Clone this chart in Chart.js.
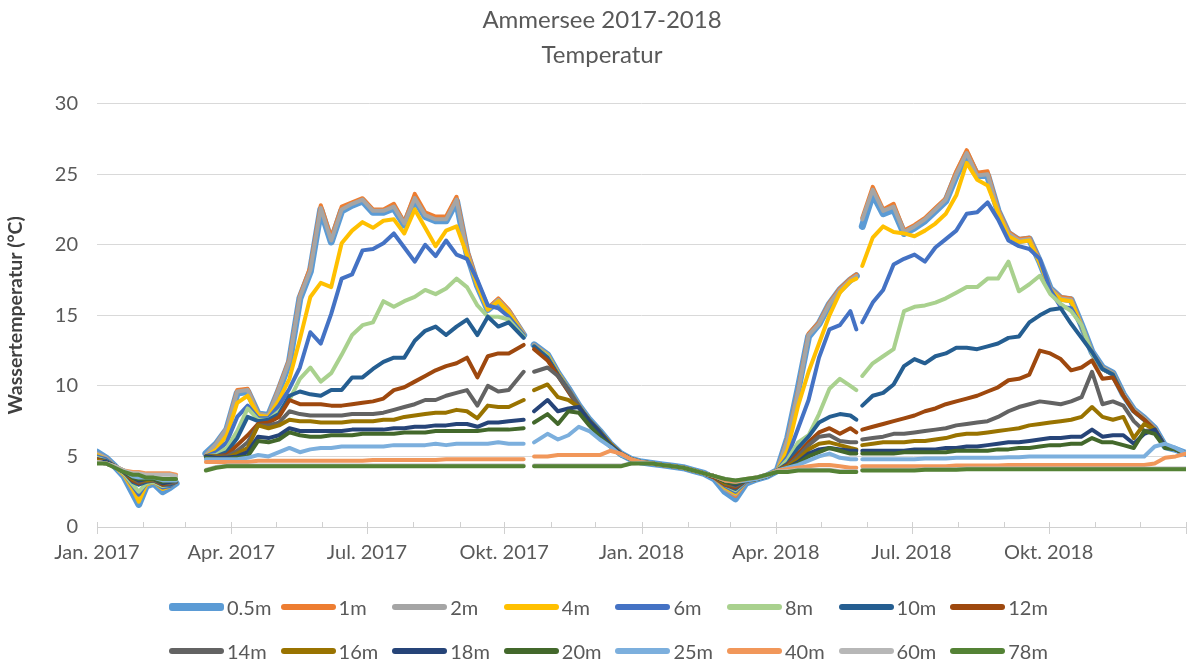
<!DOCTYPE html>
<html>
<head>
<meta charset="utf-8">
<script src="https://cdn.jsdelivr.net/npm/chart.js@4/dist/chart.umd.min.js"></script>
<style>
  html, body { margin: 0; padding: 0; background: #fff; }
  #wrap { position: relative; width: 1200px; height: 662px; overflow: hidden; }
  #legend { position: absolute; left: 0; top: 0; width: 1200px; height: 662px; pointer-events: none;
            font-family: Lato, 'Noto Sans', sans-serif; }
  .item { position: absolute; display: flex; align-items: center; height: 24px; font-size: 20px; color: #595959; white-space: nowrap; }
  .item .mark { display: inline-block; width: 55px; border-radius: 3px; margin-right: 3px; }
</style>
</head>
<body>
<div id="wrap">
  <canvas id="chart" width="1200" height="662"></canvas>
  <div id="legend"></div>
</div>
<script>
// Ammersee 2017-2018, Wassertemperatur nach Tiefe
// x = Tage seit 1.1.2017, null-Einträge = Messlücken

const FONT = "Lato, 'Noto Sans', sans-serif";

const days = [
  0, 6, 12, 18, 24, 28, 33, 38, 44, 49, 53,
  63,
  73, 80, 87, 94, 101, 108, 115, 122, 129, 136, 143, 150, 157, 164, 171, 178,
  185, 192, 199, 206, 213, 220, 227, 234, 241, 248, 255, 262, 269, 276, 286,
  289,
  293, 302, 309, 316, 323, 330, 337, 344, 351, 358, 365, 372, 379, 386, 393, 400,
  407, 414, 421, 428, 435, 442, 449, 456, 463, 470, 477, 484, 491, 498, 505, 509,
  511,
  513, 520, 527, 534, 541, 548, 555, 562, 569, 576, 583, 590, 597, 604, 611, 618,
  625, 632, 639, 646, 653, 660, 667, 674, 681, 688, 695, 702, 709, 716, 723, 730
];

const depths = ['0.5m', '1m', '2m', '4m', '6m', '8m', '10m', '12m',
                '14m', '16m', '18m', '20m', '25m', '40m', '60m', '78m'];

const colors = ['#5B9BD5', '#ED7D31', '#A5A5A5', '#FFC000', '#4472C4', '#A9D18E', '#255E91', '#9E480E',
                '#636363', '#997300', '#264478', '#43682B', '#7CAFDD', '#F1975A', '#B7B7B7', '#548235'];

const t0_5 = [
  5.3, 4.9, 4.3, 3.6, 2.4, 1.6, 2.9, 3.1, 2.5, 2.8, 3.1,
  null,
  5.2, 5.9, 6.9, 9.5, 9.6, 8.0, 7.9, 9.7, 11.7, 16.2, 18.1, 22.5, 20.2, 22.4, 22.8, 23.1,
  22.3, 22.3, 22.6, 21.4, 23.2, 22.0, 21.7, 21.7, 23.1, 19.4, 17.1, 15.4, 16.0, 15.2, 13.6,
  null,
  12.9, 12.2, 10.9, 9.8, 8.6, 7.6, 6.8, 5.9, 5.2, 4.8, 4.6, 4.5, 4.4, 4.3, 4.2, 4.0,
  3.8, 3.4, 2.5, 2.0, 3.1, 3.4, 3.6, 4.0, 6.3, 9.8, 13.5, 14.4, 15.8, 16.8, 17.5, 17.8,
  null,
  21.3, 23.6, 22.2, 22.5, 20.8, 21.2, 21.7, 22.4, 23.1, 24.9, 26.4, 24.9, 24.9, 22.4, 20.8, 20.3,
  20.4, 18.8, 16.9, 16.2, 16.1, 14.3, 12.4, 11.3, 10.9, 9.4, 8.3, 7.7, 7.0, 5.7, 5.5, 5.2
];

const t1 = [
  5.2, 4.9, 4.3, 3.7, 2.6, 1.9, 3.0, 3.2, 2.7, 2.9, 3.2,
  null,
  5.1, 5.9, 7.0, 9.7, 9.8, 8.0, 7.9, 9.9, 11.9, 16.4, 18.4, 22.8, 20.5, 22.7, 23.0, 23.3,
  22.5, 22.5, 22.9, 21.6, 23.6, 22.3, 22.0, 22.0, 23.4, 19.7, 17.3, 15.5, 16.2, 15.4, 13.7,
  null,
  12.9, 12.2, 10.9, 9.8, 8.6, 7.6, 6.8, 5.9, 5.2, 4.8, 4.6, 4.5, 4.4, 4.3, 4.2, 4.0,
  3.8, 3.5, 2.7, 2.2, 3.2, 3.4, 3.6, 4.0, 6.3, 9.7, 13.7, 14.5, 15.9, 16.9, 17.6, 17.9,
  null,
  21.9, 24.1, 22.5, 22.9, 21.0, 21.4, 21.9, 22.6, 23.3, 25.2, 26.7, 25.1, 25.2, 22.5, 20.9, 20.4,
  20.5, 18.9, 16.9, 16.3, 16.2, 14.3, 12.4, 11.3, 10.9, 9.4, 8.3, 7.7, 7.0, 5.7, 5.5, 5.2
];

const t2 = [
  5.2, 4.9, 4.3, 3.7, 2.6, 1.9, 3.0, 3.2, 2.7, 2.9, 3.2,
  null,
  5.1, 5.9, 7.0, 9.6, 9.7, 8.0, 7.9, 9.8, 11.8, 16.3, 18.2, 22.6, 20.3, 22.5, 22.9, 23.2,
  22.4, 22.4, 22.7, 21.5, 23.3, 22.1, 21.8, 21.8, 23.2, 19.5, 17.2, 15.4, 16.1, 15.3, 13.7,
  null,
  12.9, 12.2, 10.9, 9.8, 8.6, 7.6, 6.8, 5.9, 5.2, 4.8, 4.6, 4.5, 4.4, 4.3, 4.2, 4.0,
  3.8, 3.5, 2.7, 2.3, 3.2, 3.4, 3.6, 4.0, 6.2, 9.6, 13.6, 14.4, 15.8, 16.8, 17.5, 17.8,
  null,
  21.8, 23.9, 22.4, 22.7, 20.9, 21.3, 21.8, 22.5, 23.2, 25.0, 26.5, 24.9, 25.0, 22.4, 20.8, 20.3,
  20.4, 18.8, 16.9, 16.2, 16.1, 14.3, 12.4, 11.3, 10.9, 9.4, 8.3, 7.7, 7.0, 5.7, 5.5, 5.2
];

const t4 = [
  5.1, 4.8, 4.3, 3.7, 2.7, 1.8, 3.0, 3.2, 2.7, 2.9, 3.2,
  null,
  5.0, 5.5, 6.5, 8.8, 9.3, 7.9, 7.8, 9.0, 10.5, 13.3, 16.3, 17.3, 17.0, 20.1, 21.0, 21.6,
  21.2, 21.7, 21.8, 20.8, 22.5, 21.2, 19.9, 21.0, 21.3, 19.3, 17.1, 15.4, 16.0, 15.2, 13.6,
  null,
  12.8, 12.2, 10.9, 9.8, 8.6, 7.6, 6.8, 5.9, 5.2, 4.8, 4.6, 4.5, 4.4, 4.3, 4.2, 4.0,
  3.8, 3.5, 2.8, 2.4, 3.2, 3.4, 3.6, 4.0, 5.5, 8.6, 11.0, 13.0, 15.0, 16.6, 17.4, 17.6,
  null,
  18.5, 20.5, 21.3, 20.9, 20.8, 20.6, 21.0, 21.5, 22.2, 23.5, 25.8, 24.6, 24.2, 22.3, 20.6, 20.2,
  20.3, 18.7, 16.8, 16.1, 16.0, 14.2, 12.3, 11.2, 10.8, 9.3, 8.2, 7.6, 6.9, 5.7, 5.5, 5.2
];

const t6 = [
  5.0, 4.8, 4.3, 3.8, 2.9, 2.3, 3.1, 3.2, 2.8, 2.9, 3.2,
  null,
  5.0, 5.3, 6.0, 7.8, 8.6, 7.7, 7.7, 8.6, 9.8, 11.3, 13.8, 13.0, 15.1, 17.6, 17.9, 19.6,
  19.7, 20.1, 20.8, 19.8, 18.8, 20.0, 19.2, 20.3, 19.3, 19.0, 17.5, 15.7, 15.5, 14.9, 13.6,
  null,
  12.8, 12.1, 10.8, 9.8, 8.6, 7.6, 6.8, 5.9, 5.2, 4.8, 4.6, 4.5, 4.4, 4.3, 4.2, 4.0,
  3.8, 3.5, 2.9, 2.5, 3.2, 3.4, 3.6, 4.0, 5.0, 7.0, 9.0, 12.0, 14.0, 14.3, 15.3, 14.0,
  null,
  14.5, 15.9, 16.8, 18.6, 19.0, 19.3, 18.8, 19.8, 20.4, 21.0, 22.2, 22.3, 23.0, 21.8, 20.3, 19.9,
  19.7, 19.0, 16.8, 15.6, 15.5, 14.2, 12.3, 11.2, 10.8, 9.3, 8.2, 7.6, 6.9, 5.7, 5.5, 5.2
];

const t8 = [
  4.9, 4.7, 4.3, 3.8, 3.0, 2.5, 3.1, 3.2, 2.9, 3.0, 3.2,
  null,
  5.0, 5.1, 5.6, 6.8, 8.4, 7.6, 7.6, 8.2, 9.0, 10.5, 11.3, 10.3, 10.9, 12.2, 13.6, 14.3,
  14.5, 16.0, 15.6, 16.0, 16.3, 16.8, 16.5, 16.9, 17.6, 17.0, 15.7, 14.9, 14.9, 14.7, 13.5,
  null,
  12.8, 12.1, 10.8, 9.7, 8.6, 7.6, 6.8, 5.9, 5.2, 4.8, 4.6, 4.5, 4.4, 4.3, 4.2, 4.0,
  3.8, 3.5, 3.0, 2.6, 3.3, 3.4, 3.6, 4.0, 4.8, 6.0, 6.5, 8.0, 9.8, 10.5, 10.0, 9.7,
  null,
  10.7, 11.6, 12.1, 12.6, 15.3, 15.6, 15.7, 15.9, 16.2, 16.6, 17.0, 17.0, 17.6, 17.6, 18.8, 16.7,
  17.2, 17.8, 16.5, 15.8, 15.3, 14.3, 12.3, 11.2, 10.8, 9.3, 8.2, 7.6, 6.9, 5.7, 5.5, 5.2
];

const t10 = [
  4.8, 4.7, 4.3, 3.9, 3.2, 3.0, 3.2, 3.3, 3.0, 3.0, 3.2,
  null,
  5.0, 5.0, 5.3, 6.3, 7.8, 7.5, 7.6, 8.0, 9.3, 9.6, 9.4, 9.3, 9.7, 9.7, 10.6, 10.6,
  11.2, 11.7, 12.0, 12.0, 13.2, 13.9, 14.2, 13.6, 14.2, 14.7, 13.6, 14.9, 14.2, 14.5, 13.4,
  null,
  12.8, 12.0, 10.8, 9.7, 8.5, 7.6, 6.8, 5.9, 5.2, 4.8, 4.6, 4.5, 4.4, 4.3, 4.2, 4.0,
  3.8, 3.5, 3.0, 2.7, 3.3, 3.4, 3.6, 4.0, 4.5, 5.6, 6.4, 7.4, 7.8, 8.0, 7.9, 7.6,
  null,
  8.6, 9.3, 9.5, 10.1, 11.4, 11.9, 11.6, 12.1, 12.3, 12.7, 12.7, 12.6, 12.8, 13.0, 13.4, 13.5,
  14.5, 15.0, 15.4, 15.5, 14.4, 13.4, 12.4, 11.2, 10.8, 9.3, 8.2, 7.6, 6.9, 5.7, 5.5, 5.2
];

const t12 = [
  4.8, 4.6, 4.3, 3.9, 3.3, 3.1, 3.3, 3.3, 3.0, 3.1, 3.2,
  null,
  5.0, 5.0, 5.1, 5.8, 6.5, 7.3, 7.4, 7.8, 9.0, 8.7, 8.7, 8.7, 8.6, 8.6, 8.7, 8.8,
  8.9, 9.1, 9.7, 9.9, 10.3, 10.7, 11.1, 11.4, 11.6, 12.0, 10.6, 12.1, 12.3, 12.3, 12.9,
  null,
  12.6, 11.8, 10.7, 9.6, 8.5, 7.5, 6.7, 5.9, 5.2, 4.8, 4.6, 4.5, 4.4, 4.3, 4.2, 4.0,
  3.8, 3.5, 3.0, 2.8, 3.3, 3.4, 3.6, 4.0, 4.4, 5.2, 6.0, 6.7, 7.0, 6.6, 7.0, 6.7,
  null,
  6.9, 7.1, 7.3, 7.5, 7.7, 7.9, 8.2, 8.4, 8.7, 8.9, 9.1, 9.3, 9.6, 9.9, 10.4, 10.5,
  10.8, 12.5, 12.3, 11.9, 11.1, 11.3, 11.8, 10.5, 10.6, 9.3, 8.2, 7.6, 6.9, 5.7, 5.5, 5.2
];

const t14 = [
  4.7, 4.6, 4.3, 3.9, 3.4, 3.2, 3.3, 3.3, 3.1, 3.1, 3.2,
  null,
  5.0, 5.0, 5.0, 5.4, 6.0, 7.2, 7.2, 7.4, 8.2, 8.0, 7.9, 7.9, 7.9, 7.9, 8.0, 8.0,
  8.0, 8.1, 8.3, 8.5, 8.7, 9.0, 9.0, 9.3, 9.5, 9.7, 8.6, 10.0, 9.6, 9.7, 11.0,
  null,
  11.0, 11.3, 10.7, 9.7, 8.6, 7.5, 6.7, 5.9, 5.2, 4.8, 4.6, 4.5, 4.4, 4.3, 4.2, 4.0,
  3.8, 3.6, 3.1, 2.9, 3.3, 3.4, 3.6, 4.0, 4.3, 5.0, 5.8, 6.4, 6.5, 6.1, 6.0, 6.0,
  null,
  6.2, 6.3, 6.4, 6.6, 6.6, 6.7, 6.8, 6.9, 7.0, 7.2, 7.3, 7.4, 7.5, 7.8, 8.2, 8.5,
  8.7, 8.9, 8.8, 8.7, 8.9, 9.2, 11.0, 8.7, 8.9, 8.6, 7.5, 6.8, 6.9, 5.7, 5.5, 5.2
];

const t16 = [
  4.7, 4.6, 4.3, 3.9, 3.4, 3.3, 3.3, 3.4, 3.1, 3.2, 3.3,
  null,
  5.0, 5.0, 4.9, 5.2, 5.6, 7.2, 7.0, 7.2, 7.6, 7.5, 7.5, 7.4, 7.4, 7.4, 7.5, 7.5,
  7.5, 7.6, 7.6, 7.8, 7.9, 8.0, 8.1, 8.1, 8.3, 8.2, 7.7, 8.6, 8.5, 8.5, 9.0,
  null,
  9.7, 10.1, 9.2, 9.0, 8.5, 7.5, 6.7, 5.9, 5.2, 4.8, 4.6, 4.5, 4.4, 4.3, 4.2, 4.0,
  3.8, 3.6, 3.1, 3.0, 3.3, 3.4, 3.6, 4.0, 4.3, 4.8, 5.5, 5.9, 6.0, 5.8, 5.6, 5.5,
  null,
  5.8, 5.9, 6.0, 6.0, 6.0, 6.1, 6.1, 6.2, 6.3, 6.5, 6.6, 6.6, 6.7, 6.8, 6.9, 7.0,
  7.2, 7.3, 7.4, 7.5, 7.6, 7.8, 8.5, 7.8, 7.6, 7.8, 6.3, 7.3, 6.9, 5.7, 5.5, 5.2
];

const t18 = [
  4.6, 4.6, 4.3, 3.9, 3.5, 3.3, 3.4, 3.4, 3.1, 3.2, 3.3,
  null,
  5.0, 4.9, 4.9, 5.0, 5.3, 6.4, 6.3, 6.5, 7.0, 6.8, 6.8, 6.8, 6.8, 6.8, 6.9, 6.9,
  6.9, 6.9, 7.0, 7.0, 7.1, 7.1, 7.2, 7.2, 7.3, 7.3, 7.1, 7.4, 7.4, 7.5, 7.6,
  null,
  8.2, 9.0, 8.2, 8.4, 8.5, 7.5, 6.7, 5.8, 5.2, 4.8, 4.6, 4.5, 4.4, 4.3, 4.2, 4.0,
  3.8, 3.6, 3.2, 3.0, 3.3, 3.4, 3.6, 4.0, 4.2, 4.6, 5.2, 5.5, 5.6, 5.5, 5.4, 5.4,
  null,
  5.4, 5.4, 5.4, 5.4, 5.4, 5.5, 5.5, 5.5, 5.6, 5.6, 5.7, 5.7, 5.8, 5.9, 6.0, 6.0,
  6.1, 6.2, 6.3, 6.3, 6.4, 6.4, 6.9, 6.4, 6.5, 6.5, 5.9, 6.6, 6.9, 5.7, 5.5, 5.2
];

const t20 = [
  4.6, 4.5, 4.3, 4.0, 3.5, 3.4, 3.4, 3.4, 3.2, 3.3, 3.3,
  null,
  4.9, 4.8, 4.8, 4.9, 5.0, 6.1, 6.0, 6.2, 6.7, 6.5, 6.4, 6.4, 6.5, 6.5, 6.5, 6.6,
  6.6, 6.6, 6.6, 6.7, 6.7, 6.7, 6.8, 6.8, 6.8, 6.8, 6.8, 6.9, 6.9, 6.9, 7.0,
  null,
  7.4, 8.0, 7.3, 8.2, 8.1, 7.2, 6.4, 5.7, 5.1, 4.8, 4.6, 4.5, 4.4, 4.3, 4.2, 4.0,
  3.8, 3.6, 3.2, 3.1, 3.3, 3.4, 3.6, 4.0, 4.2, 4.5, 5.0, 5.3, 5.6, 5.4, 5.2, 5.2,
  null,
  5.2, 5.2, 5.2, 5.2, 5.3, 5.3, 5.3, 5.3, 5.3, 5.4, 5.4, 5.4, 5.4, 5.5, 5.5, 5.6,
  5.6, 5.7, 5.8, 5.8, 5.9, 5.9, 6.3, 6.0, 6.0, 5.8, 5.6, 6.8, 6.6, 5.6, 5.5, 5.2
];

const t25 = [
  4.6, 4.5, 4.3, 4.0, 3.6, 3.5, 3.5, 3.5, 3.3, 3.3, 3.3,
  null,
  4.8, 4.8, 4.8, 4.8, 4.9, 5.1, 5.0, 5.3, 5.6, 5.3, 5.5, 5.6, 5.6, 5.7, 5.7, 5.7,
  5.7, 5.7, 5.8, 5.8, 5.8, 5.8, 5.9, 5.8, 5.9, 5.9, 5.9, 5.9, 6.0, 5.9, 5.9,
  null,
  6.0, 6.6, 6.2, 6.5, 7.1, 6.8, 6.2, 5.7, 5.1, 4.8, 4.6, 4.5, 4.4, 4.3, 4.2, 4.0,
  3.8, 3.6, 3.3, 3.2, 3.3, 3.4, 3.6, 4.0, 4.2, 4.4, 4.7, 5.0, 5.2, 4.9, 4.8, 4.8,
  null,
  4.8, 4.8, 4.8, 4.8, 4.8, 4.8, 4.85, 4.85, 4.85, 4.9, 4.9, 4.9, 4.9, 4.9, 4.95, 4.95,
  5.0, 5.0, 5.0, 5.0, 5.0, 5.0, 5.0, 5.0, 5.0, 5.0, 5.0, 5.0, 5.7, 5.9, 5.6, 5.2
];

const t40 = [
  4.6, 4.5, 4.3, 4.0, 3.9, 3.9, 3.8, 3.8, 3.8, 3.8, 3.7,
  null,
  4.6, 4.6, 4.6, 4.6, 4.6, 4.7, 4.7, 4.7, 4.7, 4.7, 4.7, 4.7, 4.7, 4.7, 4.7, 4.7,
  4.75, 4.75, 4.75, 4.75, 4.75, 4.75, 4.75, 4.8, 4.8, 4.8, 4.8, 4.8, 4.8, 4.8, 4.8,
  null,
  5.0, 5.0, 5.1, 5.1, 5.1, 5.1, 5.1, 5.4, 5.2, 4.8, 4.6, 4.5, 4.4, 4.3, 4.2, 4.0,
  3.8, 3.6, 3.3, 3.2, 3.4, 3.5, 3.7, 4.0, 4.1, 4.2, 4.3, 4.4, 4.4, 4.3, 4.2, 4.2,
  null,
  4.3, 4.3, 4.3, 4.3, 4.3, 4.3, 4.3, 4.3, 4.3, 4.35, 4.35, 4.35, 4.35, 4.35, 4.4, 4.4,
  4.4, 4.4, 4.4, 4.4, 4.4, 4.4, 4.4, 4.4, 4.4, 4.4, 4.4, 4.4, 4.5, 4.9, 5.0, 5.2
];

const t60 = [
  4.6, 4.5, 4.3, 4.0, 3.8, 3.8, 3.7, 3.7, 3.7, 3.7, 3.6,
  null,
  4.05, 4.25, 4.35, 4.35, 4.35, 4.35, 4.35, 4.35, 4.35, 4.35, 4.35, 4.35, 4.35, 4.35, 4.35, 4.35,
  4.35, 4.35, 4.35, 4.35, 4.35, 4.35, 4.35, 4.35, 4.35, 4.35, 4.35, 4.35, 4.35, 4.35, 4.35,
  null,
  4.35, 4.35, 4.35, 4.35, 4.35, 4.35, 4.35, 4.35, 4.35, 4.5, 4.55, 4.5, 4.4, 4.3, 4.2, 4.0,
  3.8, 3.6, 3.4, 3.3, 3.4, 3.5, 3.7, 3.95, 3.95, 4.05, 4.05, 4.05, 4.05, 3.95, 3.95, 3.95,
  null,
  4.05, 4.05, 4.05, 4.05, 4.05, 4.05, 4.1, 4.1, 4.1, 4.1, 4.15, 4.15, 4.15, 4.15, 4.15, 4.15,
  4.15, 4.15, 4.15, 4.15, 4.15, 4.15, 4.15, 4.15, 4.15, 4.15, 4.15, 4.15, 4.15, 4.15, 4.15, 4.15
];

const t78 = [
  4.5, 4.5, 4.2, 3.9, 3.7, 3.7, 3.5, 3.5, 3.4, 3.4, 3.4,
  null,
  4.0, 4.2, 4.3, 4.3, 4.3, 4.3, 4.3, 4.3, 4.3, 4.3, 4.3, 4.3, 4.3, 4.3, 4.3, 4.3,
  4.3, 4.3, 4.3, 4.3, 4.3, 4.3, 4.3, 4.3, 4.3, 4.3, 4.3, 4.3, 4.3, 4.3, 4.3,
  null,
  4.3, 4.3, 4.3, 4.3, 4.3, 4.3, 4.3, 4.3, 4.3, 4.5, 4.5, 4.5, 4.4, 4.3, 4.2, 4.0,
  3.8, 3.6, 3.4, 3.3, 3.4, 3.5, 3.7, 3.9, 3.9, 4.0, 4.0, 4.0, 4.0, 3.9, 3.9, 3.9,
  null,
  4.0, 4.0, 4.0, 4.0, 4.0, 4.0, 4.05, 4.05, 4.05, 4.05, 4.1, 4.1, 4.1, 4.1, 4.1, 4.1,
  4.1, 4.1, 4.1, 4.1, 4.1, 4.1, 4.1, 4.1, 4.1, 4.1, 4.1, 4.1, 4.1, 4.1, 4.1, 4.1
];

const series = [t0_5, t1, t2, t4, t6, t8, t10, t12, t14, t16, t18, t20, t25, t40, t60, t78];

// Monatsanfänge (Tage seit 1.1.2017) und Quartalsbeschriftungen
const monthStarts = [0, 31, 59, 90, 120, 151, 181, 212, 243, 273, 304, 334,
                     365, 396, 424, 455, 485, 516, 546, 577, 608, 638, 669, 699, 730];
const quarterLabels = {
  0: 'Jan. 2017', 90: 'Apr. 2017', 181: 'Jul. 2017', 273: 'Okt. 2017',
  365: 'Jan. 2018', 455: 'Apr. 2018', 546: 'Jul. 2018', 638: 'Okt. 2018'
};

// Excel-artige Teilstriche: Monate kurz nach innen, Quartale durchgehend
const axisTicks = {
  id: 'axisTicks',
  afterDraw(chart) {
    const xs = chart.scales.x;
    const y0 = chart.chartArea.bottom;
    const ctx = chart.ctx;
    ctx.save();
    ctx.strokeStyle = '#D0D0D0';
    ctx.lineWidth = 1;
    monthStarts.forEach(d => {
      const px = Math.round(xs.getPixelForValue(d)) + 0.5;
      const major = (d in quarterLabels) || d === 730;
      ctx.beginPath();
      ctx.moveTo(px, y0 - 5);
      ctx.lineTo(px, y0 + (major ? 7 : 1));
      ctx.stroke();
    });
    ctx.restore();
  }
};

const datasets = depths.map((name, i) => ({
  label: name,
  data: days.map((d, k) => ({ x: d, y: series[i][k] ?? null })),
  borderColor: colors[i],
  backgroundColor: colors[i],
  borderWidth: i === 0 ? 7 : 4,
  pointRadius: 0,
  tension: 0,
  spanGaps: false,
  borderJoinStyle: 'round',
  borderCapStyle: 'round',
  order: depths.length - i,   // 0.5m zuunterst, 78m obenauf
}));

new Chart(document.getElementById('chart'), {
  type: 'line',
  data: { datasets },
  options: {
    responsive: false,
    animation: false,
    devicePixelRatio: 1,
    layout: { padding: { left: 4, right: 0, top: 0, bottom: 95 } },
    plugins: {
      legend: { display: false },
      tooltip: { enabled: false },
      title: {
        display: true,
        text: ['Ammersee 2017-2018', 'Temperatur'],
        color: '#595959',
        font: { family: FONT, size: 24, weight: 'normal', lineHeight: 1.45 },
        padding: { top: 3, bottom: 31 },
      },
    },
    scales: {
      x: {
        type: 'linear',
        min: 0,
        max: 730,
        afterBuildTicks: s => { s.ticks = monthStarts.map(v => ({ value: v })); },
        afterFit: s => { s.height = 40; },
        grid: { drawOnChartArea: false, drawTicks: false },
        border: { color: '#D0D0D0', width: 1 },
        ticks: {
          autoSkip: false,
          maxRotation: 0,
          padding: 14,
          color: '#595959',
          font: { family: FONT, size: 20 },
          callback: v => quarterLabels[v] || '',
        },
      },
      y: {
        min: 0,
        max: 30,
        afterFit: s => { s.width = 93; },
        grid: { color: '#D9D9D9', drawTicks: false },
        border: { display: false },
        ticks: { stepSize: 5, padding: 19, color: '#595959', font: { family: FONT, size: 20 } },
        title: {
          display: true,
          text: 'Wassertemperatur (°C)',
          color: '#404040',
          font: { family: FONT, size: 19.5, weight: 'bold' },
          padding: { top: 0, bottom: 0 },
        },
      },
    },
  },
  plugins: [axisTicks],
});

// Legende unten, zwei Zeilen à acht Einträge
const legendBox = document.getElementById('legend');
depths.forEach((name, i) => {
  const row = Math.floor(i / 8);
  const col = i % 8;
  const el = document.createElement('div');
  el.className = 'item';
  el.style.left = (169 + col * 111.6) + 'px';
  el.style.top = (595 + row * 44) + 'px';
  const mark = document.createElement('span');
  mark.className = 'mark';
  mark.style.background = colors[i];
  mark.style.height = (i === 0 ? 8 : 6) + 'px';
  el.appendChild(mark);
  el.appendChild(document.createTextNode(name));
  legendBox.appendChild(el);
});
</script>
</body>
</html>
